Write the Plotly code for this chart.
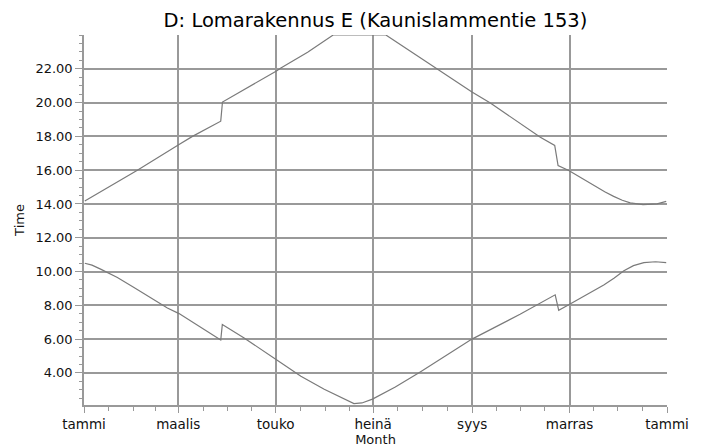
import pandas as pd
import plotly.graph_objects as go

# Day of year (0 = 1 Jan) and time of day (hours)
sunset_day = [0.5, 33.4, 59.5, 67.9, 85.6, 86.7, 120.5, 123.0, 140.0, 156.0,
              189.0, 221.0, 242.9, 254.4, 285.7, 294.7, 296.8, 303.5, 319.0,
              326.0, 331.6, 337.0, 342.0, 350.0, 358.8, 364.5]
sunset_time = [14.18, 16.0, 17.52, 18.0, 18.90, 20.03, 21.87, 22.03, 22.98, 24.0,
               24.0, 22.0, 20.62, 19.97, 17.95, 17.46, 16.27, 15.98, 15.09,
               14.72, 14.45, 14.22, 14.06, 13.96, 14.0, 14.15]

sunrise_day = [0.5, 5.0, 10.4, 20.9, 31.3, 52.2, 59.5, 85.6, 86.6, 100.0, 120.5,
               135.8, 150.4, 165.0, 169.0, 174.0, 180.6, 194.9, 210.5, 242.9, 273.0,
               295.0, 297.2, 303.5, 325.4, 332.0, 338.0, 344.0, 350.5, 357.8, 364.5]
sunrise_time = [10.49, 10.38, 10.14, 9.65, 9.06, 7.84, 7.51, 5.95, 6.86, 6.08, 4.78,
                3.80, 3.03, 2.34, 2.18, 2.22, 2.45, 3.16, 4.06, 6.0, 7.47,
                8.62, 7.70, 8.03, 9.20, 9.62, 10.05, 10.35, 10.53, 10.58, 10.53]

month_labels = ["tammi", "maalis", "touko", "heinä", "syys", "marras", "tammi"]
y_ticks = [4, 6, 8, 10, 12, 14, 16, 18, 20, 22]

year_start = pd.Timestamp("2023-01-01")
def to_dates(days):
    return [year_start + pd.Timedelta(days=d) for d in days]

month_starts = pd.date_range("2023-01-01", "2024-01-01", freq="MS")
major_ticks = list(month_starts[::2])
minor_ticks = [m for i, m in enumerate(month_starts) if i % 2 == 1]
minor_ticks += [month_starts[i] + (month_starts[i + 1] - month_starts[i]) / 2
                for i in range(len(month_starts) - 1)]

LINE = "#7a7a7a"
GRID = "#999999"
FONT = "DejaVu Sans"

# the page body adds an 8px offset; the figure is sized to compensate
W, H, OFF = 696, 440, 8

fig = go.Figure()
fig.add_trace(go.Scatter(x=to_dates(sunset_day), y=sunset_time, mode="lines",
                         line=dict(color=LINE, width=1.2), showlegend=False))
fig.add_trace(go.Scatter(x=to_dates(sunrise_day), y=sunrise_time, mode="lines",
                         line=dict(color=LINE, width=1.2), showlegend=False))

fig.update_layout(
    width=W, height=H,
    margin=dict(l=84 - OFF, r=37, t=35 - OFF, b=43, autoexpand=False),
    paper_bgcolor="white", plot_bgcolor="white",
    font=dict(family=FONT, size=13, color="#111111"),
    title=dict(text="D: Lomarakennus E (Kaunislammentie 153)",
               x=0.5, xref="paper", xanchor="center",
               y=1 - (20 - OFF) / H, yref="container", yanchor="middle",
               font=dict(family=FONT, size=19.5, color="#000000")),
    xaxis=dict(
        type="date",
        range=[month_starts[0], month_starts[-1]],
        tickmode="array", tickvals=major_ticks, ticktext=month_labels,
        showgrid=True, gridcolor=GRID, gridwidth=1.6,
        showline=True, linecolor=GRID, linewidth=1.6,
        ticks="outside", ticklen=6, tickcolor=GRID, tickwidth=1.4,
        tickfont=dict(size=13.5),
        minor=dict(tickmode="array", tickvals=minor_ticks, ticks="outside",
                   ticklen=4, tickcolor=GRID, tickwidth=1.2, showgrid=False),
        title=dict(text="Month", font=dict(size=13), standoff=4),
        zeroline=False,
    ),
    yaxis=dict(
        range=[2.1, 24.0],
        tickmode="array", tickvals=y_ticks, tickformat=".2f",
        showgrid=True, gridcolor=GRID, gridwidth=1.6,
        showline=True, linecolor=GRID, linewidth=1.6,
        ticks="outside", ticklen=7, tickcolor=GRID, tickwidth=1.4,
        tickfont=dict(size=13),
        minor=dict(dtick=0.5, tick0=0, ticks="outside", ticklen=3,
                   tickcolor=GRID, tickwidth=1.2, showgrid=False),
        title=dict(text="Time", font=dict(size=13), standoff=8),
        zeroline=False,
    ),
)

fig.write_html("out.html")
